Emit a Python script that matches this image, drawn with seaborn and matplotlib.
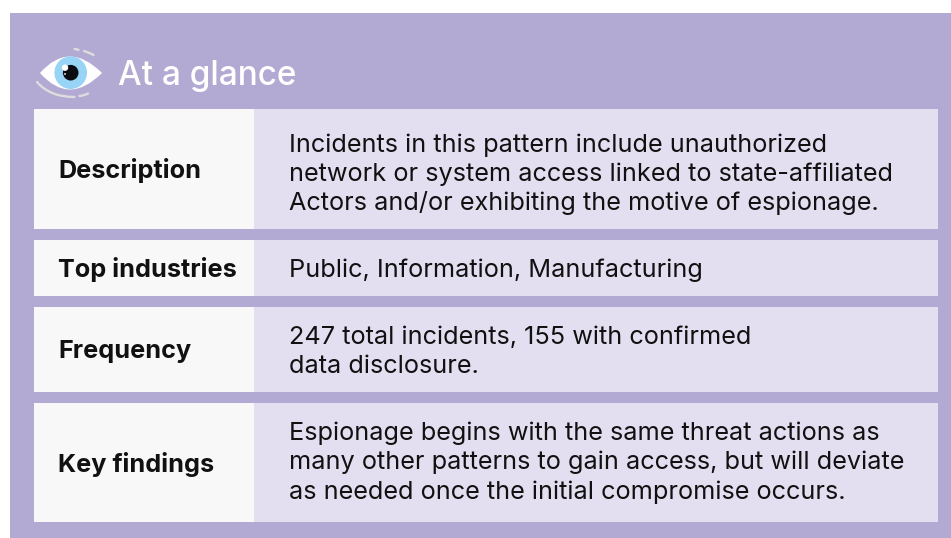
import matplotlib
matplotlib.use("Agg")
import matplotlib.pyplot as plt
from matplotlib.patches import Rectangle, Circle, PathPatch
from matplotlib.path import Path
import seaborn as sns

sns.set_theme(style="white")
plt.rcParams['font.family'] = ['Inter', 'DejaVu Sans']

title = "At a glance"
row_labels = ["Description", "Top industries", "Frequency", "Key findings"]
row_lines = [
    ["Incidents in this pattern include unauthorized",
     "network or system access linked to state-affiliated",
     "Actors and/or exhibiting the motive of espionage."],
    ["Public, Information, Manufacturing"],
    ["247 total incidents, 155 with confirmed", "data disclosure."],
    ["Espionage begins with the same threat actions as",
     "many other patterns to gain access, but will deviate",
     "as needed once the initial compromise occurs."],
]

# layout (pixels)
row_top = [109, 240, 307, 403]
row_bottom = [229, 296, 392, 522]
label_base = [178.3, 276.7, 358.3, 471.7]
first_base = [151.7, 276.7, 344, 440]
line_gap = 29.3

PANEL = "#b3aad3"
LEFT = "#f8f8f8"
RIGHT = "#e3dff0"
INK = "#111111"
DASH = "#dddddd"

fig = plt.figure(figsize=(9.51, 5.38), dpi=100, facecolor="white")
ax = fig.add_axes([0, 0, 1, 1])
ax.set_xlim(0, 951)
ax.set_ylim(538, 0)
ax.axis("off")

ax.add_patch(Rectangle((10, 13), 941, 525, fc=PANEL, ec="none"))
for lab, lines, t, b, lb, fb in zip(row_labels, row_lines, row_top, row_bottom, label_base, first_base):
    ax.add_patch(Rectangle((34, t), 220, b - t, fc=LEFT, ec="none"))
    ax.add_patch(Rectangle((254, t), 684, b - t, fc=RIGHT, ec="none"))
    ax.text(58, lb, lab, fontsize=18.2, fontweight="bold", color=INK, va="baseline")
    for i, s in enumerate(lines):
        ax.text(289, fb + i * line_gap, s, fontsize=18.2, color=INK, va="baseline")

ax.text(118, 85, title, fontsize=24, fontweight="medium", color="white", va="baseline")

# eye icon
eye = Path([(40, 73), (69, 40), (102, 73), (69, 106), (40, 73)],
           [Path.MOVETO, Path.CURVE3, Path.CURVE3, Path.CURVE3, Path.CURVE3])
ax.add_patch(PathPatch(eye, fc="white", ec="none"))
ax.add_patch(Circle((70.7, 72.7), 16.3, fc="#97d4f5", ec="none"))
ax.add_patch(Circle((70.7, 72.7), 7.8, fc="#0b0b12", ec="none"))
ax.add_patch(Circle((65, 67.7), 3.2, fc="white", ec="none"))
ax.add_patch(Circle((65, 74), 0.9, fc="white", ec="none"))
strokes = [
    [(74.5, 49), (76.5, 49), (78.5, 50)],
    [(84, 51), (89, 52.5), (93.5, 55)],
    [(37, 82), (50, 97), (74.5, 97)],
    [(79.5, 96), (84, 95.5), (88, 93.5)],
]
for pts in strokes:
    ax.add_patch(PathPatch(Path(pts, [Path.MOVETO, Path.CURVE3, Path.CURVE3]),
                           fc="none", ec=DASH, lw=1.7, capstyle="round"))

fig.savefig("out.png", dpi=100, facecolor="white")
